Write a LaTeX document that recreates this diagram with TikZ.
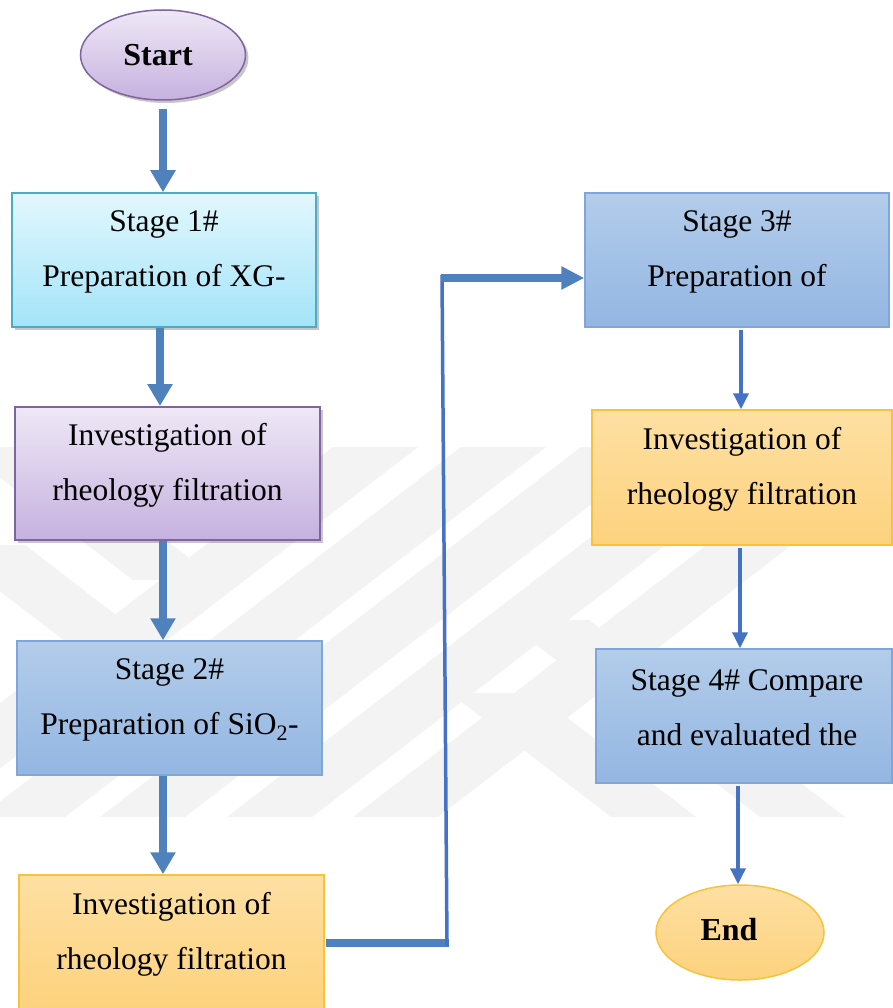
\documentclass[tikz,border=0pt]{standalone}
\usepackage{fontspec}
\setmainfont{Liberation Serif}
\usetikzlibrary{arrows.meta,shapes.geometric,shadows,calc}
\definecolor{arrowblue}{HTML}{4F81BD}
\definecolor{lineblue}{HTML}{4472C4}
\definecolor{purpleborder}{HTML}{8064A2}
\definecolor{purpletop}{HTML}{EEE8F6}
\definecolor{purplebot}{HTML}{C6B1DF}
\definecolor{cyanborder}{HTML}{4BACC6}
\definecolor{cyantop}{HTML}{E2F7FD}
\definecolor{cyanbot}{HTML}{A3E4F8}
\definecolor{blueborder}{HTML}{7EA6DA}
\definecolor{bluetop}{HTML}{B3CDEA}
\definecolor{bluebot}{HTML}{93B6E2}
\definecolor{orangeborder}{HTML}{F8C33A}
\definecolor{orangetop}{HTML}{FEE0A3}
\definecolor{orangebot}{HTML}{FCD27D}
\definecolor{wmgrey}{HTML}{F3F3F3}
\begin{document}
\begin{tikzpicture}[x=1pt,y=-1pt,
  wm/.style={fill=wmgrey},
  boxst/.style={draw, rectangle, line width=1.5pt, inner sep=0pt, minimum width=304pt, minimum height=134pt},
  shad/.style={drop shadow={shadow xshift=3pt, shadow yshift=-3pt, fill=black, opacity=0.22}},
  cyanbox/.style={boxst, draw=cyanborder, top color=cyantop, bottom color=cyanbot},
  purplebox/.style={boxst, draw=purpleborder, line width=2pt, top color=purpletop, bottom color=purplebot},
  bluebox/.style={boxst, draw=blueborder, top color=bluetop, bottom color=bluebot},
  orangebox/.style={boxst, draw=orangeborder, top color=orangetop, bottom color=orangebot},
  ellst/.style={draw, ellipse, line width=1.5pt, inner sep=0pt},
  txt/.style={align=center, inner sep=0pt, font=\fontsize{31.5}{55}\selectfont},
  txtb/.style={inner sep=0pt, font=\fontsize{32}{38}\selectfont\bfseries},
  bigarr/.style={draw=arrowblue, line width=8.5pt, -{Triangle[length=22pt,width=24pt]}},
  thinarr/.style={draw=lineblue, line width=3.5pt, -{Triangle[length=16pt,width=15pt]}},
  thickline/.style={draw=arrowblue, line width=7.5pt},
  thinline/.style={draw=lineblue, line width=3.5pt}
]
\useasboundingbox (0,0) rectangle (892,1008);
\fill[white] (0,0) rectangle (892,1008);

% faint background watermark
\begin{scope}
\clip (0,447) rectangle (892,817);
\foreach \b in {-148,-20,100,227,353}{
  \fill[wm] (\b,817) -- ++(85,0) -- ++(481,-370) -- ++(-85,0) -- cycle;
}
\fill[wm] (-40,447) -- (45,447) -- (218,580) -- (133,580) -- cycle;
\fill[wm] (-60,545) -- (25,545) -- (181,665) -- (96,665) -- cycle;
\fill[wm] (450,693) -- (535,693) -- (696,817) -- (611,817) -- cycle;
\fill[wm] (504,620) -- (589,620) -- (845,817) -- (760,817) -- cycle;
\end{scope}

% nodes
\node[ellst, shad, draw=purpleborder, top color=purpletop, bottom color=purplebot,
      minimum width=165pt, minimum height=90pt] (start) at (163,55) {};
\node[txtb] (startt) at (158,55) {Start};

\node[cyanbox, shad] (s1) at (164,260) {};
\node[txt] (s1t) at ($(s1.center)+(0,-8)$) {Stage 1\#\\Preparation of XG-};

\node[purplebox, shad, minimum width=305pt, minimum height=133pt] (inv1) at (167.5,473.5) {};
\node[txt] (inv1t) at ($(inv1.center)+(0,-8)$) {Investigation of\\rheology filtration};

\node[bluebox, minimum width=305pt] (s2) at (169.5,708) {};
\node[txt] (s2t) at ($(s2.center)+(0,-8)$) {Stage 2\#\\Preparation of SiO\textsubscript{2}-};

\node[orangebox, minimum width=305pt] (inv2) at (171.5,942) {};
\node[txt] (inv2t) at ($(inv2.center)+(0,-8)$) {Investigation of\\rheology filtration};

\node[bluebox] (s3) at (737,260) {};
\node[txt] (s3t) at ($(s3.center)+(0,-8)$) {Stage 3\#\\Preparation of};

\node[orangebox, minimum width=300pt, minimum height=135pt] (inv3) at (742,477.5) {};
\node[txt] (inv3t) at ($(inv3.center)+(0,-8)$) {Investigation of\\rheology filtration};

\node[bluebox, minimum width=296pt] (s4) at (744,716) {};
\node[txt] (s4t) at ($(s4.center)+(3,-8)$) {Stage 4\# Compare\\and evaluated the};

\node[ellst, draw=orangeborder, top color=orangetop, bottom color=orangebot,
      minimum width=168pt, minimum height=95pt] (end) at (740,932.5) {};
\node[txtb] (endt) at (729,930) {End};

% connectors
\draw[bigarr] ([yshift=-8pt]start.south) -- (start.south |- s1.north);
\draw[bigarr] ([xshift=-4pt]s1.south) -- ([xshift=-4pt]s1.south |- inv1.north);
\draw[bigarr] ([xshift=-4.5pt]inv1.south) -- ([xshift=-4.5pt]inv1.south |- s2.north);
\draw[bigarr] ([xshift=-6.5pt]s2.south) -- ([xshift=-6.5pt]s2.south |- inv2.north);

\coordinate (c1) at (447,943);
\coordinate (c2) at (442,278);
\draw[thickline] ([xshift=1pt]inv2.east |- c1) -- ([xshift=1.5pt]c1);
\draw[thinline] ([yshift=-3pt]c1) -- ([yshift=3pt]c2);
\draw[draw=arrowblue, line width=7.5pt, -{Triangle[length=23pt,width=22pt]}] ([xshift=-1.5pt]c2) -- (c2 -| s3.west);

\draw[thinarr] ([xshift=4pt,yshift=-2pt]s3.south) -- ([xshift=4pt]s3.south |- inv3.north);
\draw[thinarr] ([xshift=-2pt,yshift=-2pt]inv3.south) -- ([xshift=-2pt]inv3.south |- s4.north);
\draw[thinarr] ([xshift=-6pt,yshift=-2pt]s4.south) -- ([xshift=-6pt]s4.south |- end.north);
\end{tikzpicture}
\end{document}
